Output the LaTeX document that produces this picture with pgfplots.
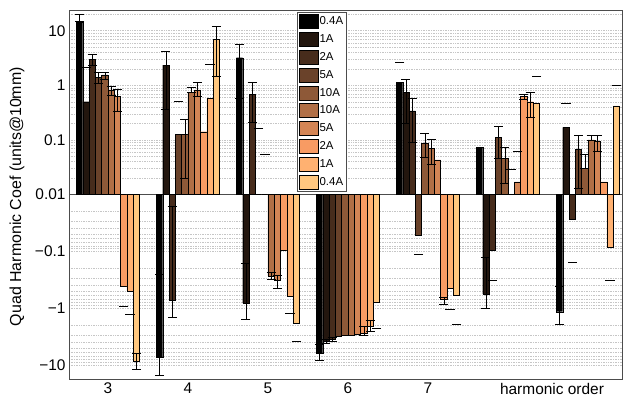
\documentclass[border=0pt]{standalone}
\usepackage{fontspec}
\setmainfont{Liberation Sans}
\usepackage{pgfplots}
\pgfplotsset{compat=1.18}
\usepackage{pgfplotstable}

\definecolor{cu0}{rgb}{0,0,0}
\definecolor{cu1}{rgb}{0.139,0.0868,0.0553}
\definecolor{cu2}{rgb}{0.278,0.1736,0.1106}
\definecolor{cu3}{rgb}{0.4167,0.2604,0.1658}
\definecolor{cu4}{rgb}{0.5556,0.3472,0.2211}
\definecolor{cu5}{rgb}{0.6944,0.434,0.2764}
\definecolor{cu6}{rgb}{0.8333,0.5208,0.3317}
\definecolor{cu7}{rgb}{0.9722,0.6076,0.3869}
\definecolor{cu8}{rgb}{1.0,0.6944,0.4422}
\definecolor{cu9}{rgb}{1.0,0.7812,0.4975}

% bar values (harmonic order g, one column per current series)
\pgfplotstableread{
g  c0     c1     c2     c3     c4     c5     c6     c7     c8     c9
3  14.6   0.50   3.0    1.38   1.55   0.82   0.62   -0.42  -0.51  -8.5
4  -7.3   2.35   -0.72  0.128  0.128  0.75   0.82   0.141  0.58   7.0
5  3.2    -0.82  0.68   nan    nan    -0.27  -0.32  -0.095 -0.61  -1.88
6  -6.3   -3.9   -3.6   -3.1   -3.05  -3.0   -2.9   -2.77  -2.1   -0.80
7  1.12   0.74   0.34   -0.052 0.087  0.070  0.043  -0.70  -0.45  -0.60
8  0.073  -0.57  -0.095 0.112  0.046  nan    0.017  0.62   0.50   0.47
9  -1.16  0.17   -0.027 0.068  0.030  0.10   0.093  0.017  -0.086 0.42
}\bars

% error bars: group, series index, the two ends
\pgfplotstableread{
g i a b
3 0 20 14.6
3 2 3.7 2.3
3 3 1.7 1.1
3 4 1.7 1.3
3 5 0.94 0.66
3 6 0.85 0.33
3 9 -6.2 -12
4 0 -0.25 -15
4 1 4.2 0.37
4 2 -0.016 -1.45
4 4 0.24 0.020
4 5 0.90 0.75
4 6 1.12 0.62
4 9 12.2 1.48
5 0 5.7 0.58
5 1 -0.16 -1.56
5 2 1.14 0.21
5 5 -0.23 -0.31
5 6 -0.27 -0.45
6 0 -4.3 -8.2
6 1 -3.6 -4.2
6 2 -3.3 -3.9
6 7 -2.1 -3.0
6 8 -1.67 -2.6
7 1 1.30 0.20
7 2 0.59 0.090
7 4 0.132 0.049
7 5 0.104 0.036
7 7 -0.64 -0.87
8 1 -0.13 -1.0
8 3 0.175 0.046
8 4 0.073 0.016
8 7 0.68 0.55
8 8 0.74 0.26
9 0 -0.42 -1.93
9 3 0.123 0.013
9 4 0.055 0.030
9 5 0.123 0.10
9 6 0.123 0.061
}\errs

% isolated error-bar ends
\pgfplotstableread{
g i v
3 1 2.1
3 7 -0.94
3 8 -1.27
4 3 0.51
4 8 2.4
5 3 0.16
5 4 0.055
5 8 -1.24
5 9 -3.8
6 9 -2.3
7 0 2.6
7 3 -0.113
7 8 -1.04
7 9 -1.93
8 2 -0.32
8 5 0.029
8 6 0.061
8 9 1.48
9 1 0.46
9 2 -0.156
9 8 -0.32
9 9 0.98
}\dashes

\begin{document}
\begin{tikzpicture}[declare function={slog(\x)=(\x>0)*(log10(abs(\x))+2)-(\x<0)*1.04*(log10(abs(\x))+2);}]
\begin{axis}[
  scale only axis, width=553bp, height=369.5bp,
  xmin=2.5125, xmax=9.425, ymin=-3.388, ymax=3.379,
  axis line style={gray!60!black, line width=0.6bp},
  major tick length=0pt, minor tick length=0pt,
  xtick={3,4,5,6,7}, xticklabels={3,4,5,6,7},
  extra x ticks={8.55}, extra x tick labels={harmonic order},
  ytick={-3.12,-2.08,-1.04,1,2,3}, yticklabels={−10,−1,−0.1,0.1,1,10},
  extra y ticks={0}, extra y tick labels={0.01},
  extra y tick style={ymajorgrids=true, major grid style={solid, gray!60!black, line width=0.8bp}},
  minor ytick={0.301,0.477,0.602,0.699,0.778,0.845,0.903,0.954,
    1.301,1.477,1.602,1.699,1.778,1.845,1.903,1.954,
    2.301,2.477,2.602,2.699,2.778,2.845,2.903,2.954,3.301,
    -0.313,-0.496,-0.626,-0.727,-0.809,-0.879,-0.939,-0.992,
    -1.353,-1.536,-1.666,-1.767,-1.849,-1.919,-1.979,-2.032,
    -2.393,-2.576,-2.706,-2.807,-2.889,-2.959,-3.019,-3.072},
  ymajorgrids, yminorgrids,
  major grid style={gray!45, line width=0.4bp, dash pattern=on 0.5bp off 1.2bp},
  minor grid style={gray!45, line width=0.4bp, dash pattern=on 0.5bp off 1.2bp},
  tick label style={font=\fontsize{15.5}{18}\selectfont},
  ylabel={Quad Harmonic Coef (units@10mm)},
  ylabel style={font=\fontsize{16}{19}\selectfont, at={(rel axis cs:-0.094,0.495)}, anchor=center},
  legend image code/.code={\draw[#1,/tikz/.cd] (0bp,-7bp) rectangle (19bp,7bp);},
  legend cell align=left,
  legend style={at={(rel axis cs:0.4123,0.9938)}, anchor=north west,
    draw=gray!60!black, fill=white, font=\fontsize{11.5}{13}\selectfont,
    inner xsep=2bp, inner ysep=2bp, row sep=3.4bp, nodes={inner sep=1bp}},
]
\addplot[ybar, bar width=0.079, bar shift=0pt, fill=cu0, draw=black, line width=0.4bp] table[x expr={\thisrow{g}-4.5*0.079}, y expr={slog(\thisrow{c0})}]{\bars};
\addlegendentry{0.4A}
\addplot[ybar, bar width=0.079, bar shift=0pt, fill=cu1, draw=black, line width=0.4bp] table[x expr={\thisrow{g}-3.5*0.079}, y expr={slog(\thisrow{c1})}]{\bars};
\addlegendentry{1A}
\addplot[ybar, bar width=0.079, bar shift=0pt, fill=cu2, draw=black, line width=0.4bp] table[x expr={\thisrow{g}-2.5*0.079}, y expr={slog(\thisrow{c2})}]{\bars};
\addlegendentry{2A}
\addplot[ybar, bar width=0.079, bar shift=0pt, fill=cu3, draw=black, line width=0.4bp] table[x expr={\thisrow{g}-1.5*0.079}, y expr={slog(\thisrow{c3})}]{\bars};
\addlegendentry{5A}
\addplot[ybar, bar width=0.079, bar shift=0pt, fill=cu4, draw=black, line width=0.4bp] table[x expr={\thisrow{g}-0.5*0.079}, y expr={slog(\thisrow{c4})}]{\bars};
\addlegendentry{10A}
\addplot[ybar, bar width=0.079, bar shift=0pt, fill=cu5, draw=black, line width=0.4bp] table[x expr={\thisrow{g}+0.5*0.079}, y expr={slog(\thisrow{c5})}]{\bars};
\addlegendentry{10A}
\addplot[ybar, bar width=0.079, bar shift=0pt, fill=cu6, draw=black, line width=0.4bp] table[x expr={\thisrow{g}+1.5*0.079}, y expr={slog(\thisrow{c6})}]{\bars};
\addlegendentry{5A}
\addplot[ybar, bar width=0.079, bar shift=0pt, fill=cu7, draw=black, line width=0.4bp] table[x expr={\thisrow{g}+2.5*0.079}, y expr={slog(\thisrow{c7})}]{\bars};
\addlegendentry{2A}
\addplot[ybar, bar width=0.079, bar shift=0pt, fill=cu8, draw=black, line width=0.4bp] table[x expr={\thisrow{g}+3.5*0.079}, y expr={slog(\thisrow{c8})}]{\bars};
\addlegendentry{1A}
\addplot[ybar, bar width=0.079, bar shift=0pt, fill=cu9, draw=black, line width=0.4bp] table[x expr={\thisrow{g}+4.5*0.079}, y expr={slog(\thisrow{c9})}]{\bars};
\addlegendentry{0.4A}
\addplot[forget plot, draw=none, mark=none,
  error bars/.cd, y dir=both, y explicit, error mark=-,
  error bar style={draw=black, solid, line width=0.5bp},
  error mark options={draw=black, solid, rotate=90, line width=0.6bp, mark size=4.5bp}]
  table[x expr={\thisrow{g}+(\thisrow{i}-4.5)*0.079},
        y expr={(slog(\thisrow{a})+slog(\thisrow{b}))/2},
        y error expr={abs(slog(\thisrow{a})-slog(\thisrow{b}))/2}]{\errs};
\addplot[forget plot, only marks, mark=-, mark size=4.7bp, mark options={black, line width=0.6bp}]
  table[x expr={\thisrow{g}+(\thisrow{i}-4.5)*0.079}, y expr={slog(\thisrow{v})}]{\dashes};
\end{axis}
\pgfresetboundingbox
\path ([shift={(-69bp,-18.5bp)}]current axis.south west) rectangle ([shift={(1bp,10bp)}]current axis.north east);
\end{tikzpicture}
\end{document}
